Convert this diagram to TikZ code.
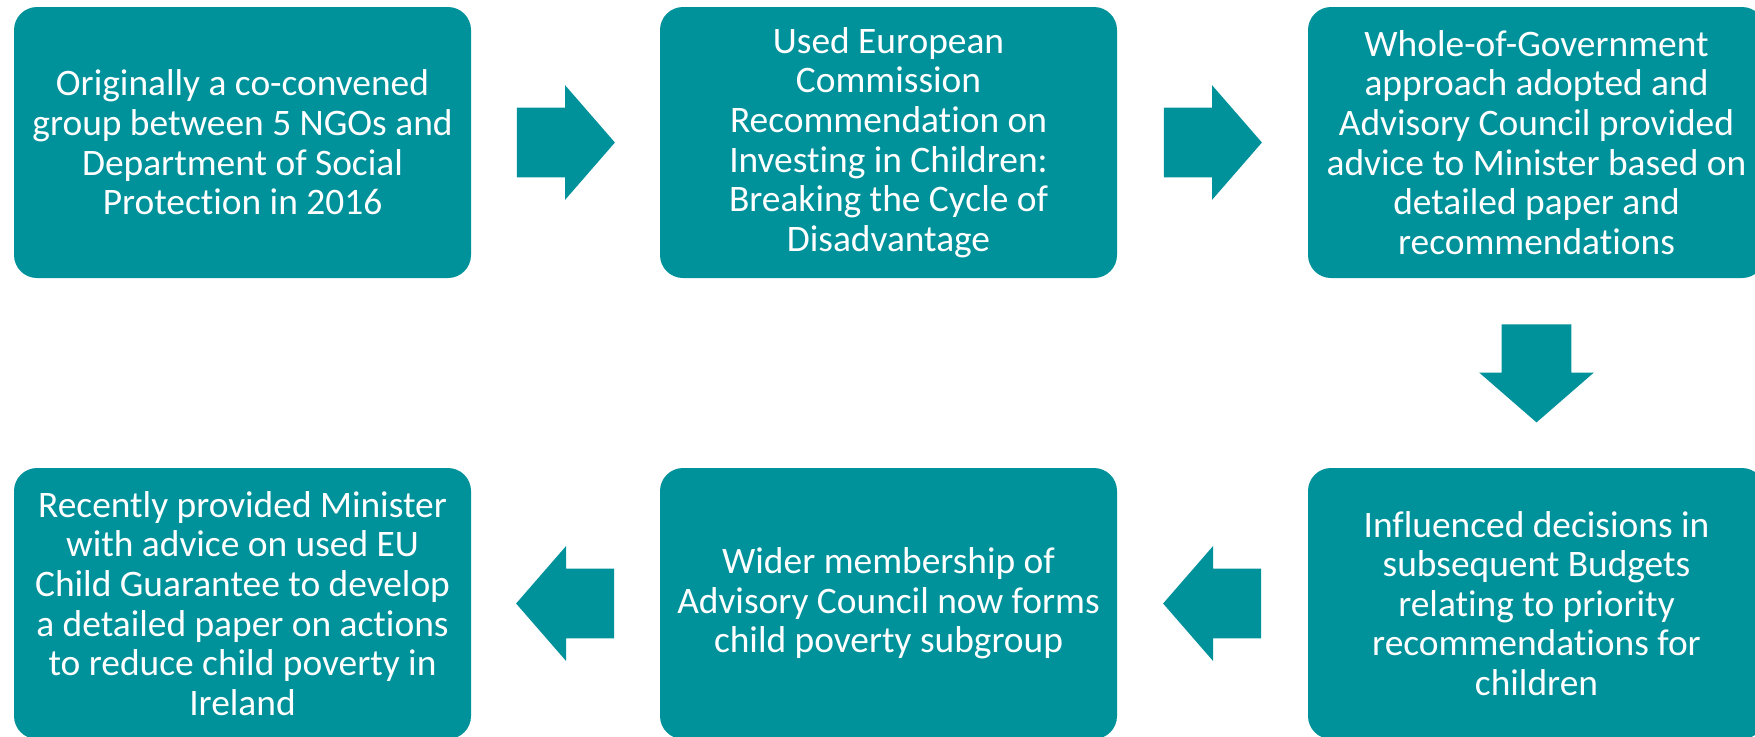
\documentclass[tikz,border=0pt]{standalone}
\usepackage{fontspec}
\setmainfont{Carlito}[Ligatures=NoCommon]
\usetikzlibrary{shapes.arrows,calc}
\definecolor{boxcolor}{RGB}{0,146,155}

\begin{document}
\begin{tikzpicture}[x=0.5pt, y=-0.5pt,
    stage/.style={fill = boxcolor, rounded corners=11.5pt, text = white, align=center, inner sep=0pt,
        minimum width=228.5pt, minimum height=135.5pt, font=\fontsize{18.7}{19.8}\selectfont},
    blockarrow/.style={single arrow, fill = boxcolor, inner xsep=0pt, inner ysep=17.25pt, minimum height=49pt,
        single arrow head extend=11.25pt, single arrow tip angle=98, anchor=tail}
    ]
    \useasboundingbox (0,0) rectangle (1755,736);
    \clip (0,0) rectangle (1755,736);

    % Define stages
    \node[stage, at={(242.5,142.5)}, name=B1]{Originally a co-convened\\group between 5 NGOs and\\Department of Social\\Protection in 2016};
    \node[stage, at={(888.5,142.5)}, name=B2]{Used European\\Commission\\Recommendation on\\Investing in Children:\\Breaking the Cycle of\\Disadvantage};
    \node[stage, at={(1536.5,142.5)}, name=B3]{Whole-of-Government\\approach adopted and\\Advisory Council provided\\advice to Minister based on\\detailed paper and\\recommendations};
    \node[stage, at={(1536.5,603.5)}, name=B4]{Influenced decisions in\\subsequent Budgets\\relating to priority\\recommendations for\\children};
    \node[stage, at={(888.5,603.5)}, name=B5]{Wider membership of\\Advisory Council now forms\\child poverty subgroup};
    \node[stage, at={(242.5,603.5)}, name=B6]{Recently provided Minister\\with advice on used EU\\Child Guarantee to develop\\a detailed paper on actions\\to reduce child poverty in\\Ireland};

    % Define arrows between stages
    \foreach \a/\b/\dir in {1/2/0, 2/3/0, 3/4/-90, 4/5/180, 5/6/180} {
        \node[blockarrow, rotate=\dir, at={($(B\a)!0.5!(B\b)!24.5pt!(B\a)$)}, name=A\a]{};
    }
\end{tikzpicture}
\end{document}
